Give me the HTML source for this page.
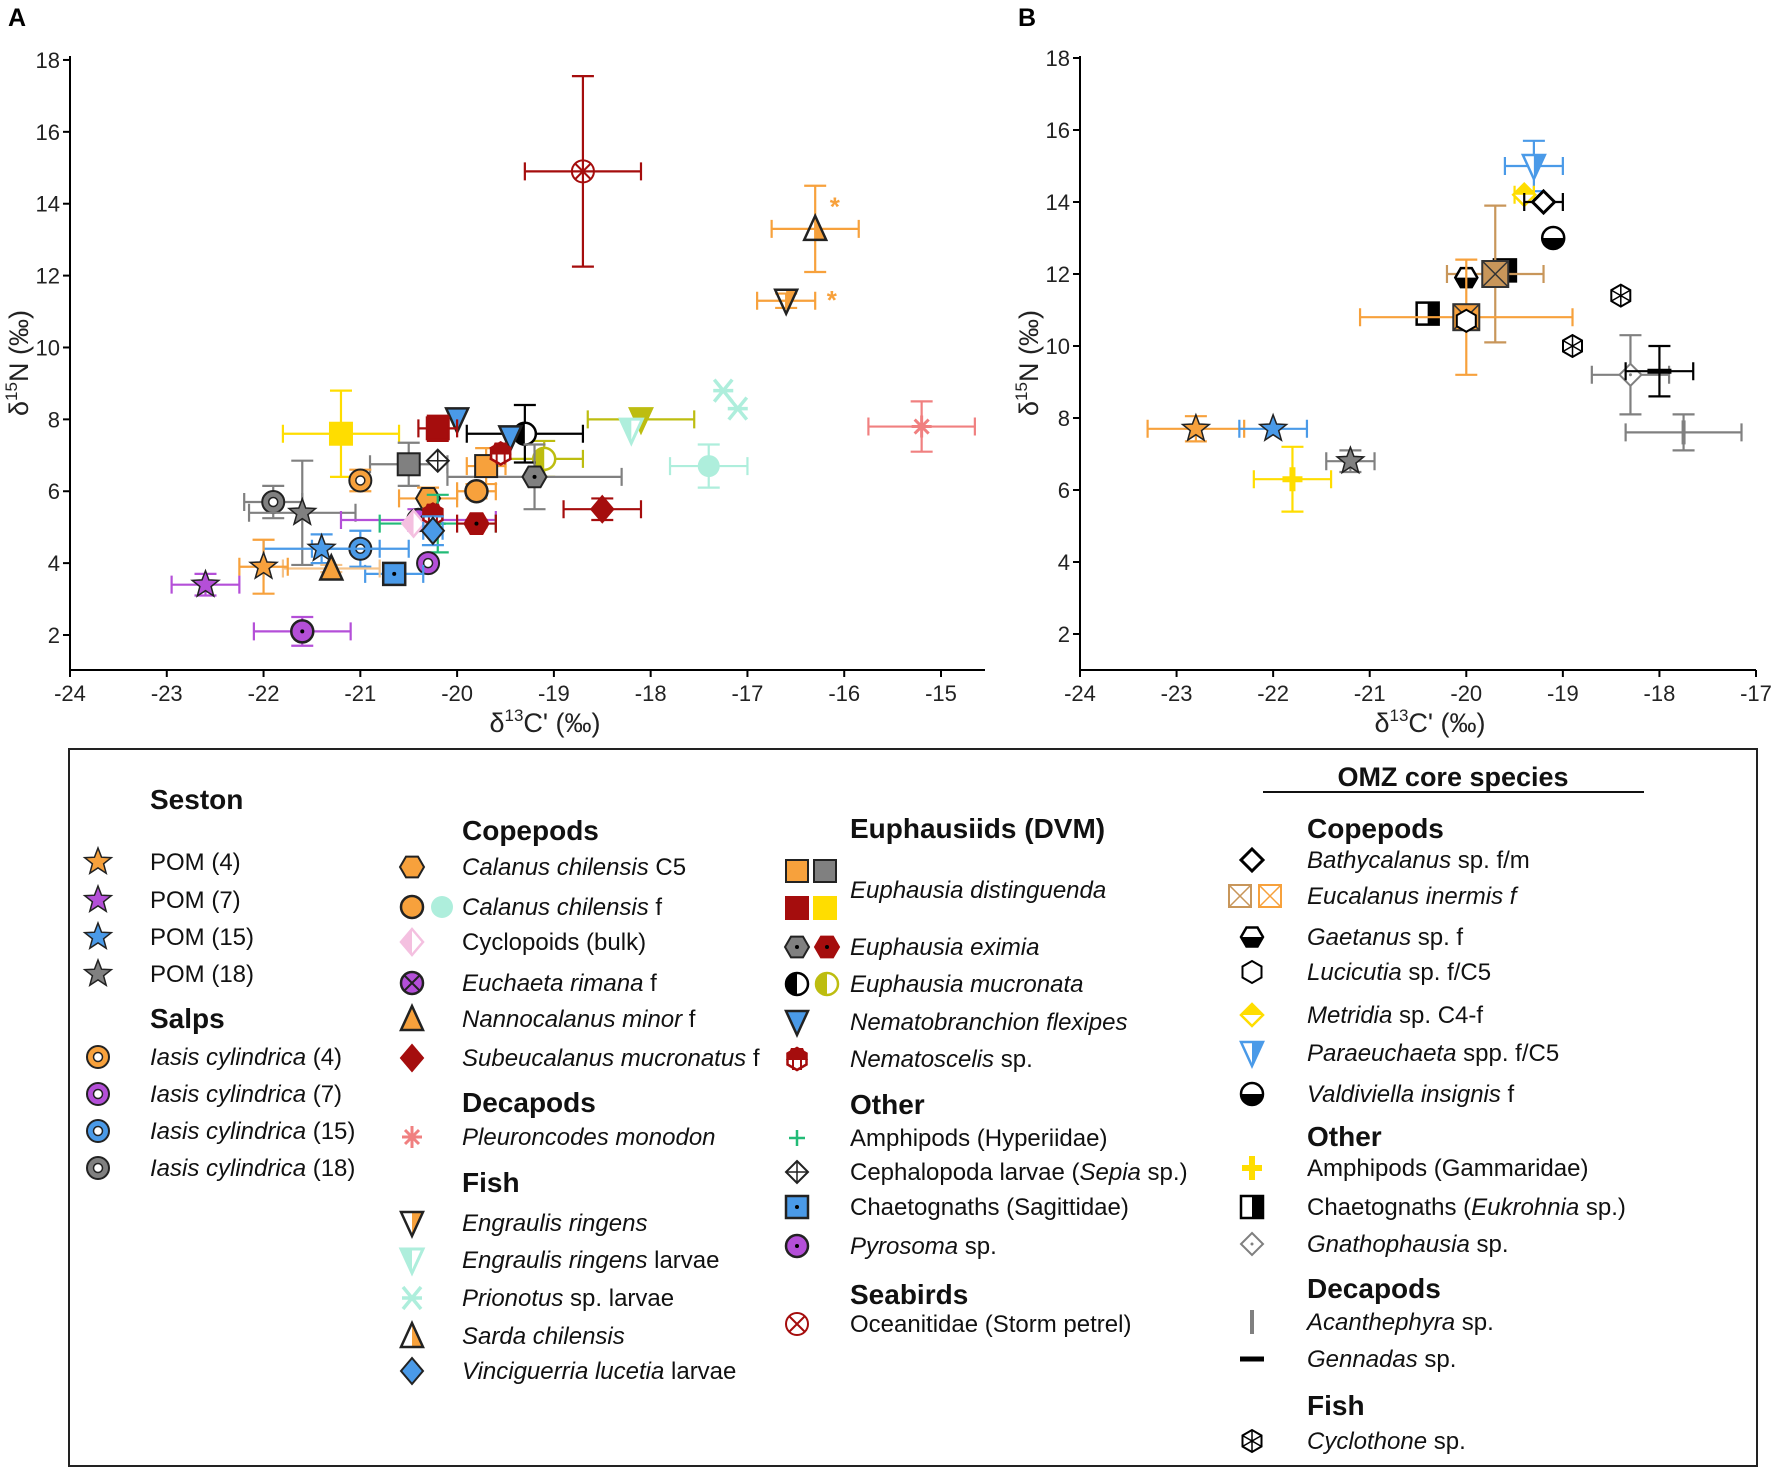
<!DOCTYPE html>
<html><head><meta charset="utf-8"><style>
html,body{margin:0;padding:0;background:#fff}
svg{display:block;font-family:"Liberation Sans",sans-serif}
</style></head><body>
<svg id="fig" width="1772" height="1469" viewBox="0 0 1772 1469" xmlns="http://www.w3.org/2000/svg"></svg>
<script>
// ---------- Panel A data ----------
const namesA = ["Oceanitidae","Sarda chilensis","Engraulis ringens","Prionotus 1","Prionotus 2","Pleuroncodes monodon","Calanus f (aqua)","E. mucronata olive tri","E. mucronata olive","Engraulis larvae","Subeucalanus","E. mucronata black","Nematobranchion 1","Nematobranchion 2","E. eximia gray","E. distinguenda red","E. distinguenda yellow","E. distinguenda gray","Cephalopoda","E. distinguenda orange","Nematoscelis 1","Iasis 4","Calanus C5","Calanus f","Iasis 18","POM 18","Euchaeta","Amphipods Hyp","Cyclopoids","Nematoscelis 2","E. eximia red","Vinciguerria","Iasis 15","POM 15","Iasis 7","Chaetognaths","Nannocalanus","POM 4","POM 7","Pyrosoma"];
const xA  = [-18.7,-16.3,-16.6,-17.25,-17.1,-15.2,-17.4,-18.1,-19.1,-18.2,-18.5,-19.3,-20.0,-19.45,-19.2,-20.2,-21.2,-20.5,-20.2,-19.7,-19.55,-21.0,-20.3,-19.8,-21.9,-21.6,-20.4,-20.2,-20.45,-20.25,-19.8,-20.25,-21.0,-21.4,-20.3,-20.65,-21.3,-22.0,-22.6,-21.6];
const yA  = [14.9,13.3,11.3,8.8,8.3,7.8,6.7,8.0,6.9,7.7,5.5,7.6,8.0,7.5,6.4,7.75,7.6,6.75,6.85,6.7,7.05,6.3,5.8,6.0,5.7,5.4,5.2,5.1,5.1,5.35,5.1,4.9,4.4,4.4,4.0,3.7,3.85,3.9,3.4,2.1];
const xeA = [0.6,0.45,0.3,0,0,0.55,0.4,0.55,0.4,0,0.4,0.6,0,0,0.9,0.2,0.6,0.4,0,0.2,0,0,0.3,0.2,0.3,0.55,0.8,0.6,0,0,0.2,0.1,0.5,0.6,0,0.3,0.5,0.25,0.35,0.5];
const yeA = [2.65,1.2,0.2,0,0,0.7,0.6,0,0.5,0,0.3,0.8,0,0,0.9,0.35,1.2,0.6,0,0.5,0.15,0.3,0.3,0.2,0.45,1.45,0.3,0.8,0,0,0.1,0.4,0.5,0.4,0,0.15,0.1,0.75,0.3,0.4];
// ---------- Panel B data ----------
const namesB = ["Paraeuchaeta","Metridia","Bathycalanus","Valdiviella","Eukrohnia 1","Eucalanus tan","Gaetanus","Eukrohnia 2","Eucalanus orange","Lucicutia","Cyclothone 1","Cyclothone 2","Gnathophausia","Gennadas","Acanthephyra","POM 4","POM 15","POM 18","Amphipods Gamm"];
const xB  = [-19.3,-19.4,-19.2,-19.1,-19.6,-19.7,-20.0,-20.4,-20.0,-20.0,-18.4,-18.9,-18.3,-18.0,-17.75,-22.8,-22.0,-21.2,-21.8];
const yB  = [15.0,14.2,14.0,13.0,12.1,12.0,11.9,10.9,10.8,10.7,11.4,10.0,9.2,9.3,7.6,7.7,7.7,6.8,6.3];
const xeB = [0.3,0.1,0.2,0,0,0.5,0,0,1.1,0,0,0,0.4,0.35,0.6,0.5,0.35,0.25,0.4];
const yeB = [0.7,0,0,0,0,1.9,0,0,1.6,0,0,0,1.1,0.7,0.5,0.35,0,0.3,0.9];
const xTicksA = [-24,-23,-22,-21,-20,-19,-18,-17,-16,-15];
const xTicksB = [-24,-23,-22,-21,-20,-19,-18,-17];
const yTicks = [2,4,6,8,10,12,14,16,18];

const C={or:"#f7a13c",pu:"#b44fd8",bl:"#4a9ae8",gr:"#808080",dr:"#a50d0d",ye:"#ffdd00",ol:"#bdbd10",aq:"#aeeedc",pk:"#f08080",gn:"#22bb77",lp:"#f4c0e0",tan:"#c8965a",k:"#000"};
const stA=[["circlex","none",C.dr],["trihalf",C.or,C.or],["tridownhalf",C.or,C.or],["xstar",C.aq,C.aq],["xstar",C.aq,C.aq],["aster",C.pk,C.pk],["circle",C.aq,C.aq],["tridown",C.ol,C.ol],["halfc",C.ol,C.ol],["tridownopen",C.aq,C.aq],["diamond",C.dr,C.dr],["halfc",C.k,C.k],["tridown",C.bl,C.k],["tridown",C.bl,C.k],["hexdot",C.gr,C.gr],["square",C.dr,C.dr],["square",C.ye,C.ye],["square",C.gr,C.gr],["crossdiamond","#fff",C.gr],["square",C.or,C.or],["nematoscelis",C.dr,C.dr],["ring",C.or,C.or],["hex",C.or,C.or],["circle",C.or,C.or],["ring",C.gr,C.gr],["star",C.gr,C.gr],["circlexf",C.pu,C.pu],["plus",C.gn,C.gn],["halfdiamond",C.lp,C.lp],["nematoscelis",C.dr,C.dr],["hexdot",C.dr,C.dr],["diamond",C.bl,C.bl],["ring",C.bl,C.bl],["star",C.bl,C.bl],["ring",C.pu,C.pu],["squaredot",C.bl,C.bl],["tri",C.or,"#f5c38a"],["star",C.or,C.or],["star",C.pu,C.pu],["circledot",C.pu,C.pu]];
const stB=[["tridownhalfb",C.bl,C.bl],["metridia",C.ye,C.ye],["diamondopen","#fff",C.k],["valdiviella",C.k,C.k],["halfsquare",C.k,C.k],["boxx",C.tan,C.tan],["gaetanus",C.k,C.k],["halfsquare",C.k,C.k],["boxx",C.or,C.or],["hexopen","#fff",C.k],["cyclo","#fff",C.k],["cyclo","#fff",C.k],["gnatho","#fff",C.gr],["dash",C.k,C.k],["bar",C.gr,C.gr],["star",C.or,C.or],["star",C.bl,C.bl],["star",C.gr,C.gr],["plusbig",C.ye,C.ye]];

const svg=document.getElementById('fig');
const NS="http://www.w3.org/2000/svg";
function el(tag,attrs,parent){const e=document.createElementNS(NS,tag);for(const k in attrs)e.setAttribute(k,attrs[k]);(parent||svg).appendChild(e);return e;}
function txt(x,y,s,attrs,parent){const t=el('text',Object.assign({x:x,y:y},attrs||{}),parent);t.textContent=s;return t;}
function starPts(cx,cy,r){let p=[];for(let i=0;i<10;i++){const a=-Math.PI/2+i*Math.PI/5;const rr=i%2?r*0.42:r;p.push((cx+rr*Math.cos(a)).toFixed(1)+","+(cy+rr*Math.sin(a)).toFixed(1));}return p.join(" ");}
function hexPts(cx,cy,r,rot){let p=[];for(let i=0;i<6;i++){const a=(rot||0)+i*Math.PI/3;p.push((cx+r*Math.cos(a)).toFixed(1)+","+(cy+r*Math.sin(a)).toFixed(1));}return p.join(" ");}

function marker(kind,cx,cy,fill,col,g){
  const r=11, sw=2.5;
  switch(kind){
  case "star": el('polygon',{points:starPts(cx,cy,r+3),fill:fill,stroke:"#222","stroke-width":1.5},g);break;
  case "ring": el('circle',{cx:cx,cy:cy,r:r,fill:fill,stroke:"#222","stroke-width":2},g);el('circle',{cx:cx,cy:cy,r:4.5,fill:"#fff",stroke:"#222","stroke-width":1.5},g);break;
  case "circle": el('circle',{cx:cx,cy:cy,r:r,fill:fill,stroke:col===C.aq?"none":"#222","stroke-width":sw},g);break;
  case "circledot": el('circle',{cx:cx,cy:cy,r:r,fill:fill,stroke:"#222","stroke-width":sw},g);el('circle',{cx:cx,cy:cy,r:2,fill:"#000"},g);break;
  case "circlex": el('circle',{cx:cx,cy:cy,r:r,fill:"none",stroke:col,"stroke-width":2},g);el('path',{d:`M${cx-7.5},${cy-7.5}L${cx+7.5},${cy+7.5}M${cx+7.5},${cy-7.5}L${cx-7.5},${cy+7.5}`,stroke:col,"stroke-width":2},g);break;
  case "circlexf": el('circle',{cx:cx,cy:cy,r:r,fill:fill,stroke:"#222","stroke-width":sw},g);el('path',{d:`M${cx-7},${cy-7}L${cx+7},${cy+7}M${cx+7},${cy-7}L${cx-7},${cy+7}`,stroke:"#222","stroke-width":2},g);break;
  case "halfc": el('circle',{cx:cx,cy:cy,r:r,fill:"#fff",stroke:col,"stroke-width":sw},g);el('path',{d:`M${cx},${cy-r}A${r},${r} 0 0 0 ${cx},${cy+r}Z`,fill:col},g);break;
  case "hex": el('polygon',{points:hexPts(cx,cy,r+1,0),fill:fill,stroke:"#222","stroke-width":2},g);break;
  case "hexopen": el('polygon',{points:hexPts(cx,cy,r,Math.PI/6),fill:"#fff",stroke:"#000","stroke-width":2},g);break;
  case "hexdot": el('polygon',{points:hexPts(cx,cy,r+1,0),fill:fill,stroke:fill===C.dr?C.dr:"#222","stroke-width":2},g);el('circle',{cx:cx,cy:cy,r:2,fill:"#000"},g);break;
  case "nematoscelis": el('polygon',{points:hexPts(cx,cy,r,Math.PI/6),fill:"#fff",stroke:fill,"stroke-width":2.5},g);el('path',{d:`M${cx-r},${cy+1}L${cx-6},${cy-r}L${cx+6},${cy-r}L${cx+r},${cy+1}Z`,fill:fill},g);el('path',{d:`M${cx-4},${cy}L${cx-4},${cy+r}M${cx+4},${cy}L${cx+4},${cy+r}`,stroke:fill,"stroke-width":2},g);break;
  case "diamond": el('polygon',{points:`${cx},${cy-r-2} ${cx+r},${cy} ${cx},${cy+r+2} ${cx-r},${cy}`,fill:fill,stroke:fill===C.dr?C.dr:"#222","stroke-width":2},g);break;
  case "diamondopen": el('polygon',{points:`${cx},${cy-r} ${cx+r},${cy} ${cx},${cy+r} ${cx-r},${cy}`,fill:"#fff",stroke:"#000","stroke-width":3},g);break;
  case "halfdiamond": el('polygon',{points:`${cx},${cy-r-2} ${cx+r},${cy} ${cx},${cy+r+2} ${cx-r},${cy}`,fill:"#fff",stroke:fill,"stroke-width":2.5},g);el('polygon',{points:`${cx},${cy-r-2} ${cx},${cy+r+2} ${cx-r},${cy}`,fill:fill},g);break;
  case "crossdiamond": el('polygon',{points:`${cx},${cy-r} ${cx+r},${cy} ${cx},${cy+r} ${cx-r},${cy}`,fill:"#fff",stroke:"#222","stroke-width":2},g);el('path',{d:`M${cx},${cy-r}V${cy+r}M${cx-r},${cy}H${cx+r}`,stroke:"#222","stroke-width":1.5},g);break;
  case "gnatho": el('polygon',{points:`${cx},${cy-r} ${cx+r},${cy} ${cx},${cy+r} ${cx-r},${cy}`,fill:"#fff",stroke:col,"stroke-width":2},g);el('circle',{cx:cx,cy:cy,r:1.5,fill:col},g);break;
  case "metridia": el('polygon',{points:`${cx},${cy-r} ${cx+r},${cy} ${cx},${cy+r} ${cx-r},${cy}`,fill:"#fff",stroke:fill,"stroke-width":2.5},g);el('polygon',{points:`${cx},${cy-r} ${cx+r},${cy} ${cx-r},${cy}`,fill:fill},g);break;
  case "tri": el('polygon',{points:`${cx},${cy-r-2} ${cx+r},${cy+r} ${cx-r},${cy+r}`,fill:fill,stroke:"#222","stroke-width":2.5},g);break;
  case "trihalf": el('polygon',{points:`${cx},${cy-r-2} ${cx+r},${cy+r} ${cx},${cy+r}`,fill:fill},g);el('polygon',{points:`${cx},${cy-r-2} ${cx+r},${cy+r} ${cx-r},${cy+r}`,fill:"none",stroke:"#222","stroke-width":2.5},g);break;
  case "tridown": el('polygon',{points:`${cx-r},${cy-r} ${cx+r},${cy-r} ${cx},${cy+r+2}`,fill:fill,stroke:col===C.ol?C.ol:"#222","stroke-width":2.5},g);break;
  case "tridownopen": el('polygon',{points:`${cx-r},${cy-r} ${cx+r},${cy-r} ${cx},${cy+r+2}`,fill:"#fff",stroke:col,"stroke-width":3},g);el('polygon',{points:`${cx-r},${cy-r} ${cx},${cy-r} ${cx},${cy+r+2}`,fill:col},g);break;
  case "tridownhalf": el('polygon',{points:`${cx},${cy-r} ${cx+r},${cy-r} ${cx},${cy+r+2}`,fill:fill},g);el('polygon',{points:`${cx-r},${cy-r} ${cx+r},${cy-r} ${cx},${cy+r+2}`,fill:"none",stroke:"#222","stroke-width":2.5},g);break;
  case "tridownhalfb": el('polygon',{points:`${cx-r},${cy-r} ${cx+r},${cy-r} ${cx},${cy+r+2}`,fill:"#fff",stroke:fill,"stroke-width":2.5},g);el('polygon',{points:`${cx},${cy-r} ${cx+r},${cy-r} ${cx},${cy+r+2}`,fill:fill},g);break;
  case "square": el('rect',{x:cx-r,y:cy-r,width:2*r,height:2*r,fill:fill,stroke:(fill===C.or||fill===C.gr)?"#222":fill,"stroke-width":2},g);break;
  case "squaredot": el('rect',{x:cx-r,y:cy-r,width:2*r,height:2*r,fill:fill,stroke:"#222","stroke-width":2.5},g);el('circle',{cx:cx,cy:cy,r:2,fill:"#000"},g);break;
  case "halfsquare": el('rect',{x:cx-r,y:cy-r,width:2*r,height:2*r,fill:"#fff",stroke:"#000","stroke-width":2.5},g);el('rect',{x:cx,y:cy-r,width:r,height:2*r,fill:"#000"},g);break;
  case "boxx": el('rect',{x:cx-r-2,y:cy-r-2,width:2*r+4,height:2*r+4,fill:fill,stroke:"#333","stroke-width":2},g);el('path',{d:`M${cx-r-2},${cy-r-2}L${cx+r+2},${cy+r+2}M${cx+r+2},${cy-r-2}L${cx-r-2},${cy+r+2}`,stroke:"#333","stroke-width":1.5},g);break;
  case "boxxl": el('rect',{x:cx-r,y:cy-r,width:2*r,height:2*r,fill:"#fff",stroke:fill,"stroke-width":2},g);el('path',{d:`M${cx-r},${cy-r}L${cx+r},${cy+r}M${cx+r},${cy-r}L${cx-r},${cy+r}`,stroke:fill,"stroke-width":1.5},g);break;
  case "gaetanus": el('polygon',{points:hexPts(cx,cy,r,0),fill:"#fff",stroke:"#000","stroke-width":2.5},g);el('path',{d:`M${cx-r},${cy}L${cx+r},${cy}L${cx+r/2},${cy+r*0.87}L${cx-r/2},${cy+r*0.87}Z`,fill:"#000"},g);break;
  case "valdiviella": el('circle',{cx:cx,cy:cy,r:r,fill:"#fff",stroke:"#000","stroke-width":2.5},g);el('path',{d:`M${cx-r},${cy}A${r},${r} 0 0 0 ${cx+r},${cy}Z`,fill:"#000"},g);break;
  case "cyclo": el('polygon',{points:hexPts(cx,cy,r,Math.PI/6),fill:"#fff",stroke:"#000","stroke-width":2},g);el('path',{d:`M${cx},${cy-r}V${cy+r}M${cx-r*0.87},${cy-r/2}L${cx+r*0.87},${cy+r/2}M${cx+r*0.87},${cy-r/2}L${cx-r*0.87},${cy+r/2}`,stroke:"#000","stroke-width":1.5},g);break;
  case "plus": el('path',{d:`M${cx-8},${cy}H${cx+8}M${cx},${cy-8}V${cy+8}`,stroke:fill,"stroke-width":2.5},g);break;
  case "plusbig": el('path',{d:`M${cx-10},${cy}H${cx+10}M${cx},${cy-12}V${cy+12}`,stroke:fill,"stroke-width":6},g);break;
  case "aster": el('path',{d:`M${cx-10},${cy}H${cx+10}M${cx},${cy-11}V${cy+11}M${cx-7},${cy-7}L${cx+7},${cy+7}M${cx+7},${cy-7}L${cx-7},${cy+7}`,stroke:fill,"stroke-width":3},g);break;
  case "xstar": el('path',{d:`M${cx-9},${cy-11}L${cx+9},${cy+11}M${cx+9},${cy-11}L${cx-9},${cy+11}M${cx-10},${cy}H${cx+10}`,stroke:fill,"stroke-width":3.5},g);break;
  case "bar": el('path',{d:`M${cx},${cy-12}V${cy+12}`,stroke:fill,"stroke-width":4},g);break;
  case "dash": el('path',{d:`M${cx-12},${cy}H${cx+12}`,stroke:fill,"stroke-width":5},g);break;
  }
}

function panel(id,ox,xmin,xmax,xend,topY,x0Y,y2Y,pxPerY,xTicks,names,xs,ys,xes,yes,styles,label,xTitleX){
  const g=el('g',{});
  
  
  const xScale=(xend-ox)/(xmax-xmin);
  const X=v=>ox+(v-xmin)*xScale;
  const Y=v=>y2Y-(v-2)*pxPerY;
  const ax=el('path',{d:`M${ox},${topY}V${x0Y}H${X(xTicks[xTicks.length-1])+ (id==='panel-a'?44:0)}`,stroke:"#000","stroke-width":2,fill:"none"},g);
  
  
  yTicks.forEach(t=>{el('path',{d:`M${ox-7},${Y(t)}H${ox}`,stroke:"#000","stroke-width":2},g);
    const tl=txt(ox-10,Y(t)+8,String(t),{"font-size":22,"text-anchor":"end",fill:"#222"},g);
    
    });
  xTicks.forEach(t=>{el('path',{d:`M${X(t)},${x0Y}V${x0Y+7}`,stroke:"#000","stroke-width":2},g);
    const tl=txt(X(t),x0Y+31,String(t),{"font-size":22,"text-anchor":"middle",fill:"#222"},g);
    
    });
  const yt=el('text',{x:0,y:0,"font-size":27,"text-anchor":"middle",fill:"#222",transform:`translate(${ox-42},${(topY+x0Y)/2}) rotate(-90)`},g);
  yt.innerHTML='δ<tspan font-size="17" dy="-11">15</tspan><tspan dy="11">N (‰)</tspan>';
  
  
  const xt=el('text',{x:xTitleX,y:x0Y+62,"font-size":27,"text-anchor":"middle",fill:"#222"},g);
  xt.innerHTML='δ<tspan font-size="17" dy="-11">13</tspan><tspan dy="11">C\' (‰)</tspan>';
  
  
  const pl=txt(ox-62,26,label,{"font-size":25,"font-weight":"bold",fill:"#000"},g);
  
  
  for(let i=0;i<xs.length;i++){
    const st=styles[i]; const eg=el('g',{},g);
    
    
    const cx=X(xs[i]), cy=Y(ys[i]); let ec=st[2]; if(ec==="#222")ec="#000";
    if(xes[i]>0){const a=X(xs[i]-xes[i]),b=X(xs[i]+xes[i]);el('path',{d:`M${a},${cy}H${b}M${a},${cy-9}V${cy+9}M${b},${cy-9}V${cy+9}`,stroke:ec,"stroke-width":2.2,fill:"none"},eg);}
    if(yes[i]>0){const a=Y(ys[i]-yes[i]),b=Y(ys[i]+yes[i]);el('path',{d:`M${cx},${a}V${b}M${cx-11},${a}H${cx+11}M${cx-11},${b}H${cx+11}`,stroke:ec,"stroke-width":2.2,fill:"none"},eg);}
    marker(st[0],cx,cy,st[1],st[2],eg);
  }
  return {X,Y,g};
}
const pA=panel('panel-a',70,-24,-15,941,56,670,635,35.94,xTicksA,namesA,xA,yA,xeA,yeA,stA,'A',545);
const pB=panel('panel-b',1080,-24,-17,1756,56,670,634,36.0,xTicksB,namesB,xB,yB,xeB,yeB,stB,'B',1430);
[[-16.15,14.0],[-16.18,11.4]].forEach(p=>{const t=txt(pA.X(p[0]),pA.Y(p[1])+12,"*",{"font-size":26,"font-weight":"bold",fill:C.or},pA.g);
  
  });

// ---------- Legend ----------
const L=el('g',{});


el('rect',{x:69,y:749,width:1688,height:717,fill:"none",stroke:"#222","stroke-width":2},L);
function head(x,y,s){const t=txt(x,y+10,s,{"font-size":28,"font-weight":"bold",fill:"#111"},L);}
function entry(ix,tx,y,html,icons){
  const g=el('g',{},L);
  
  
  icons.forEach((ic,k)=>marker(ic[0],ix+k*30,y,ic[1],ic[2],g));
  const t=el('text',{x:tx,y:y+8,"font-size":24,fill:"#111"},g); t.innerHTML=html;
}
const I=s=>`<tspan font-style="italic">${s}</tspan>`;
head(150,799,"Seston");
entry(98,150,862,"POM (4)",[["star",C.or,C.or]]);
entry(98,150,900,"POM (7)",[["star",C.pu,C.pu]]);
entry(98,150,937,"POM (15)",[["star",C.bl,C.bl]]);
entry(98,150,974,"POM (18)",[["star",C.gr,C.gr]]);
head(150,1018,"Salps");
entry(98,150,1057,I("Iasis cylindrica")+" (4)",[["ring",C.or,C.or]]);
entry(98,150,1094,I("Iasis cylindrica")+" (7)",[["ring",C.pu,C.pu]]);
entry(98,150,1131,I("Iasis cylindrica")+" (15)",[["ring",C.bl,C.bl]]);
entry(98,150,1168,I("Iasis cylindrica")+" (18)",[["ring",C.gr,C.gr]]);
head(462,830,"Copepods");
entry(412,462,867,I("Calanus chilensis")+" C5",[["hex",C.or,C.or]]);
entry(412,462,907,I("Calanus chilensis")+" f",[["circle",C.or,C.or],["circle",C.aq,C.aq]]);
entry(412,462,942,"Cyclopoids (bulk)",[["halfdiamond",C.lp,C.lp]]);
entry(412,462,983,I("Euchaeta rimana")+" f",[["circlexf",C.pu,C.pu]]);
entry(412,462,1019,I("Nannocalanus minor")+" f",[["tri",C.or,C.or]]);
entry(412,462,1058,I("Subeucalanus mucronatus")+" f",[["diamond",C.dr,C.dr]]);
head(462,1102,"Decapods");
entry(412,462,1137,I("Pleuroncodes monodon"),[["aster",C.pk,C.pk]]);
head(462,1182,"Fish");
entry(412,462,1223,I("Engraulis ringens"),[["tridownhalf",C.or,C.or]]);
entry(412,462,1260,I("Engraulis ringens")+" larvae",[["tridownopen",C.aq,C.aq]]);
entry(412,462,1298,I("Prionotus")+" sp. larvae",[["xstar",C.aq,C.aq]]);
entry(412,462,1336,I("Sarda chilensis"),[["trihalf",C.or,C.or]]);
entry(412,462,1371,I("Vinciguerria lucetia")+" larvae",[["diamond",C.bl,C.bl]]);
head(850,828,"Euphausiids (DVM)");
entry(797,850,890,I("Euphausia distinguenda"),[]);
marker("square",797,871,C.or,C.or,L);marker("square",825,871,C.gr,C.gr,L);
marker("square",797,908,C.dr,C.dr,L);marker("square",825,908,C.ye,C.ye,L);
entry(797,850,947,I("Euphausia eximia"),[["hexdot",C.gr,C.gr],["hexdot",C.dr,C.dr]]);
entry(797,850,984,I("Euphausia mucronata"),[["halfc",C.k,C.k],["halfc",C.ol,C.ol]]);
entry(797,850,1022,I("Nematobranchion flexipes"),[["tridown",C.bl,C.k]]);
entry(797,850,1059,I("Nematoscelis")+" sp.",[["nematoscelis",C.dr,C.dr]]);
head(850,1104,"Other");
entry(797,850,1138,"Amphipods (Hyperiidae)",[["plus",C.gn,C.gn]]);
entry(797,850,1172,"Cephalopoda larvae ("+I("Sepia")+" sp.)",[["crossdiamond","#fff",C.k]]);
entry(797,850,1207,"Chaetognaths (Sagittidae)",[["squaredot",C.bl,C.bl]]);
entry(797,850,1246,I("Pyrosoma")+" sp.",[["circledot",C.pu,C.pu]]);
head(850,1294,"Seabirds");
entry(797,850,1324,"Oceanitidae (Storm petrel)",[["circlex","none",C.dr]]);
const ot=txt(1453,786,"OMZ core species",{"font-size":27,"font-weight":"bold","text-anchor":"middle",fill:"#111"},L);


el('path',{d:"M1263,792H1644",stroke:"#111","stroke-width":2},L);
head(1307,828,"Copepods");
entry(1252,1307,860,I("Bathycalanus")+" sp. f/m",[["diamondopen","#fff",C.k]]);
entry(1240,1307,896,I("Eucalanus inermis f"),[["boxxl",C.tan,C.tan],["boxxl",C.or,C.or]]);
entry(1252,1307,937,I("Gaetanus")+" sp. f",[["gaetanus",C.k,C.k]]);
entry(1252,1307,972,I("Lucicutia")+" sp. f/C5",[["hexopen","#fff",C.k]]);
entry(1252,1307,1015,I("Metridia")+" sp. C4-f",[["metridia",C.ye,C.ye]]);
entry(1252,1307,1053,I("Paraeuchaeta")+" spp. f/C5",[["tridownhalfb",C.bl,C.bl]]);
entry(1252,1307,1094,I("Valdiviella insignis")+" f",[["valdiviella",C.k,C.k]]);
head(1307,1136,"Other");
entry(1252,1307,1168,"Amphipods (Gammaridae)",[["plusbig",C.ye,C.ye]]);
entry(1252,1307,1207,"Chaetognaths ("+I("Eukrohnia")+" sp.)",[["halfsquare",C.k,C.k]]);
entry(1252,1307,1244,I("Gnathophausia")+" sp.",[["gnatho","#fff",C.gr]]);
head(1307,1288,"Decapods");
entry(1252,1307,1322,I("Acanthephyra")+" sp.",[["bar",C.gr,C.gr]]);
entry(1252,1307,1359,I("Gennadas")+" sp.",[["dash",C.k,C.k]]);
head(1307,1405,"Fish");
entry(1252,1307,1441,I("Cyclothone")+" sp.",[["cyclo","#fff",C.k]]);
</script>
</body></html>
